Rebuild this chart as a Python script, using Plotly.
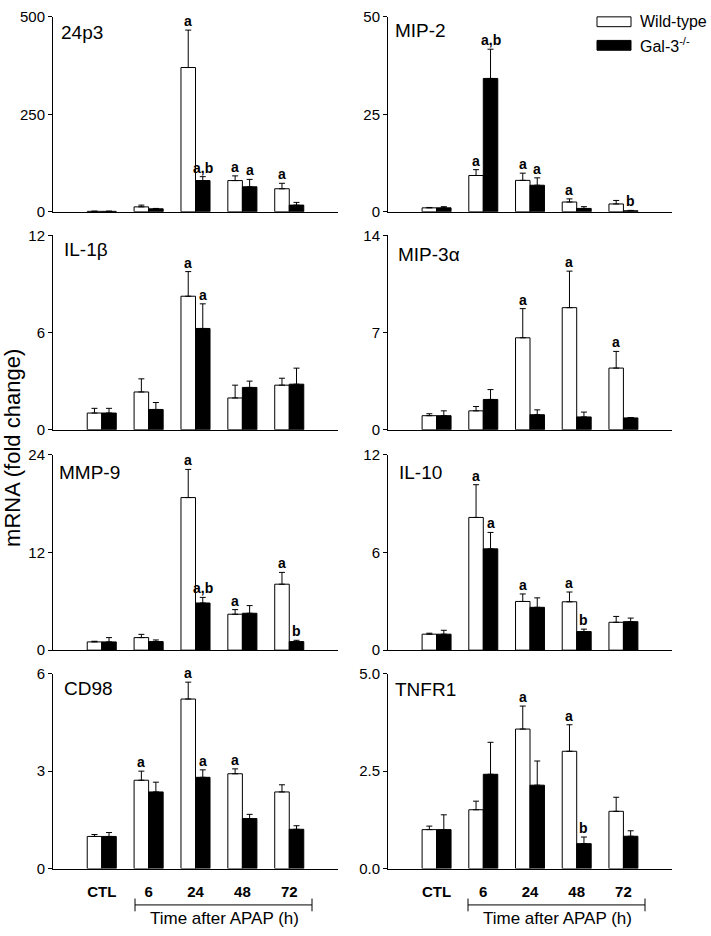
import plotly.graph_objects as go

W, H = 711, 936

groups = ["CTL", "6", "24", "48", "72"]
series_names = ["Wild-type", "Gal-3<sup>-/-</sup>"]

panels = ["24p3", "MIP-2", "IL-1β", "MIP-3α", "MMP-9", "IL-10", "CD98", "TNFR1"]

wt_24p3 = [1, 12.5, 370, 80, 59]
wt_24p3_err = [0.5, 4.5, 96, 12, 14]
ko_24p3 = [1, 7.5, 80, 64, 17]
ko_24p3_err = [0.5, 1, 10, 19, 7]

wt_mip2 = [1.0, 9.3, 8.05, 2.5, 2.0]
wt_mip2_err = [0.1, 1.5, 1.85, 0.8, 0.9]
ko_mip2 = [1.0, 34.2, 6.8, 0.85, 0.25]
ko_mip2_err = [0.3, 7.5, 1.9, 0.45, 0.1]

wt_il1b = [1.03, 2.33, 8.24, 1.96, 2.75]
wt_il1b_err = [0.29, 0.81, 1.52, 0.79, 0.43]
ko_il1b = [1.03, 1.25, 6.25, 2.61, 2.81]
ko_il1b_err = [0.29, 0.43, 1.52, 0.39, 0.99]

wt_mip3a = [1.01, 1.36, 6.62, 8.79, 4.44]
wt_mip3a_err = [0.14, 0.31, 2.1, 2.63, 1.2]
ko_mip3a = [1.01, 2.18, 1.08, 0.92, 0.85]
ko_mip3a_err = [0.35, 0.71, 0.35, 0.35, 0.03]

wt_mmp9 = [1.01, 1.54, 18.74, 4.41, 8.10]
wt_mmp9_err = [0.08, 0.4, 3.46, 0.57, 1.45]
ko_mmp9 = [1.01, 1.05, 5.79, 4.53, 1.05]
ko_mmp9_err = [0.53, 0.2, 0.69, 0.94, 0.16]

wt_il10 = [0.98, 8.15, 2.99, 2.97, 1.71]
wt_il10_err = [0.06, 2.01, 0.46, 0.6, 0.36]
ko_il10 = [0.98, 6.22, 2.63, 1.14, 1.75]
ko_il10_err = [0.24, 1.01, 0.58, 0.15, 0.22]

wt_cd98 = [0.99, 2.72, 5.22, 2.92, 2.36]
wt_cd98_err = [0.06, 0.28, 0.52, 0.15, 0.22]
ko_cd98 = [0.99, 2.36, 2.81, 1.54, 1.21]
ko_cd98_err = [0.12, 0.3, 0.23, 0.13, 0.11]

wt_tnfr1 = [1.0, 1.51, 3.58, 3.01, 1.47]
wt_tnfr1_err = [0.09, 0.22, 0.59, 0.68, 0.36]
ko_tnfr1 = [1.0, 2.42, 2.14, 0.64, 0.83]
ko_tnfr1_err = [0.38, 0.82, 0.62, 0.17, 0.14]

# significance letters per group: (wild-type, Gal-3-/-)
sig_24p3 = [("", ""), ("", ""), ("a", "a,b"), ("a", "a"), ("a", "")]
sig_mip2 = [("", ""), ("a", "a,b"), ("a", "a"), ("a", ""), ("", "b")]
sig_il1b = [("", ""), ("", ""), ("a", "a"), ("", ""), ("", "")]
sig_mip3a = [("", ""), ("", ""), ("a", ""), ("a", ""), ("a", "")]
sig_mmp9 = [("", ""), ("", ""), ("a", "a,b"), ("a", ""), ("a", "b")]
sig_il10 = [("", ""), ("a", "a"), ("a", ""), ("a", "b"), ("", "")]
sig_cd98 = [("", ""), ("a", ""), ("a", "a"), ("a", ""), ("", "")]
sig_tnfr1 = [("", ""), ("", ""), ("a", ""), ("a", "b"), ("", "")]

y_max = [500, 50, 12, 14, 24, 12, 6, 5.0]
y_ticks = [[0, 250, 500], [0, 25, 50], [0, 6, 12], [0, 7, 14],
           [0, 12, 24], [0, 6, 12], [0, 3, 6], [0, 2.5, 5.0]]
y_ticktext = [["0", "250", "500"], ["0", "25", "50"], ["0", "6", "12"], ["0", "7", "14"],
              ["0", "12", "24"], ["0", "6", "12"], ["0", "3", "6"], ["0.0", "2.5", "5.0"]]

data = [
    (wt_24p3, wt_24p3_err, ko_24p3, ko_24p3_err, sig_24p3),
    (wt_mip2, wt_mip2_err, ko_mip2, ko_mip2_err, sig_mip2),
    (wt_il1b, wt_il1b_err, ko_il1b, ko_il1b_err, sig_il1b),
    (wt_mip3a, wt_mip3a_err, ko_mip3a, ko_mip3a_err, sig_mip3a),
    (wt_mmp9, wt_mmp9_err, ko_mmp9, ko_mmp9_err, sig_mmp9),
    (wt_il10, wt_il10_err, ko_il10, ko_il10_err, sig_il10),
    (wt_cd98, wt_cd98_err, ko_cd98, ko_cd98_err, sig_cd98),
    (wt_tnfr1, wt_tnfr1_err, ko_tnfr1, ko_tnfr1_err, sig_tnfr1),
]

# layout geometry (pixels)
col_x = [(53, 338), (388, 672)]
row_y = [(8, 206.5), (230.5, 428.5), (454, 653), (677, 875.5)]
title_pos = [(59, 24), (393, 22), (62, 245), (396, 250),
             (57, 472), (397, 472), (62, 692), (393, 693)]

FONT = "Liberation Sans, Arial, sans-serif"

fig = go.Figure()
layout_axes = {}
annotations = []
shapes = []

xs = list(range(len(groups)))
group_offset = 0.155

for i, name in enumerate(panels):
    r, c = divmod(i, 2)
    k = i + 1
    xa = "x" if k == 1 else f"x{k}"
    ya = "y" if k == 1 else f"y{k}"
    wt, wte, ko, koe, sig = data[i]
    fig.add_trace(go.Bar(
        x=xs, y=wt, xaxis=xa, yaxis=ya, name=series_names[0], offsetgroup="wt",
        marker=dict(color="white", line=dict(color="black", width=1)),
        error_y=dict(type="data", array=wte, arrayminus=[0] * 5, symmetric=False,
                     color="black", thickness=1, width=3),
        showlegend=False, hoverinfo="skip"))
    fig.add_trace(go.Bar(
        x=xs, y=ko, xaxis=xa, yaxis=ya, name=series_names[1], offsetgroup="ko",
        marker=dict(color="black", line=dict(color="black", width=1)),
        error_y=dict(type="data", array=koe, arrayminus=[0] * 5, symmetric=False,
                     color="black", thickness=1, width=3),
        showlegend=False, hoverinfo="skip"))
    x0, x1 = col_x[c]
    yt, yb = row_y[r]
    bottom = (r == 3)
    layout_axes[("xaxis" if k == 1 else f"xaxis{k}")] = dict(
        domain=[x0 / W, x1 / W], anchor=ya, range=[-1.04, 5.04],
        tickvals=xs, ticktext=groups, showticklabels=bottom, ticks="",
        ticklabelstandoff=9,
        showline=True, linecolor="black", linewidth=1, showgrid=False, zeroline=False,
        tickfont=dict(family=FONT, size=15, color="black", weight="bold"), fixedrange=True)
    layout_axes[("yaxis" if k == 1 else f"yaxis{k}")] = dict(
        domain=[1 - yb / H, 1 - yt / H], anchor=xa, range=[0, y_max[i]],
        tickvals=y_ticks[i], ticktext=y_ticktext[i], ticks="outside", ticklen=4,
        tickcolor="black", tickwidth=1, showline=True, linecolor="black", linewidth=1,
        showgrid=False, zeroline=False,
        tickfont=dict(family=FONT, size=15, color="black"), fixedrange=True)
    # panel title
    tx, ty = title_pos[i]
    annotations.append(dict(text=name, x=tx / W, y=1 - ty / H, xref="paper", yref="paper",
                            xanchor="left", yanchor="middle", showarrow=False,
                            font=dict(family=FONT, size=19, color="black")))
    # significance letters
    for g in range(5):
        for s, (vals, errs, off) in enumerate([(wt, wte, -group_offset), (ko, koe, group_offset)]):
            lab = sig[g][s]
            if lab:
                annotations.append(dict(text=lab, x=g + off, y=vals[g] + errs[g],
                                        xref=xa, yref=ya, xanchor="center", yanchor="bottom",
                                        yshift=-1, showarrow=False,
                                        font=dict(family=FONT, size=14, color="black", weight="bold")))

# y-axis title
annotations.append(dict(text="mRNA (fold change)", x=13 / W, y=1 - 447 / H, xref="paper", yref="paper",
                        textangle=-90, xanchor="center", yanchor="middle", showarrow=False,
                        font=dict(family=FONT, size=22, color="black")))

# bottom brackets "Time after APAP (h)"
for (bx0, bx1, tcx) in [(135, 312, 224), (468, 645, 557)]:
    shapes.append(dict(type="line", xref="paper", yref="paper", x0=bx0 / W, x1=bx1 / W,
                       y0=1 - 912.5 / H, y1=1 - 912.5 / H, line=dict(color="black", width=1)))
    for bx in (bx0, bx1):
        shapes.append(dict(type="line", xref="paper", yref="paper", x0=bx / W, x1=bx / W,
                           y0=1 - 906 / H, y1=1 - 919 / H, line=dict(color="black", width=1)))
    annotations.append(dict(text="Time after APAP (h)", x=tcx / W, y=1 - 926.5 / H, xref="paper", yref="paper",
                            xanchor="center", yanchor="middle", showarrow=False,
                            font=dict(family=FONT, size=17, color="black")))

# legend
for j, (fill, yc) in enumerate([("white", 13), ("black", 37)]):
    shapes.append(dict(type="rect", xref="paper", yref="paper", x0=597 / W, x1=631 / W,
                       y0=1 - (yc - 5) / H, y1=1 - (yc + 5) / H,
                       line=dict(color="black", width=1), fillcolor=fill))
    annotations.append(dict(text=series_names[j], x=638 / W, y=1 - yc / H, xref="paper", yref="paper",
                            xanchor="left", yanchor="middle", showarrow=False,
                            font=dict(family=FONT, size=16, color="black")))

fig.update_layout(
    width=W, height=H, margin=dict(l=0, r=0, t=0, b=0),
    paper_bgcolor="white", plot_bgcolor="white",
    barmode="group", bargap=0.38, bargroupgap=0,
    showlegend=False, annotations=annotations, shapes=shapes,
    **layout_axes)

fig.write_html("out.html", config={"displayModeBar": False, "staticPlot": True},
               post_script="document.body.style.margin='0';document.body.style.overflow='hidden';")
